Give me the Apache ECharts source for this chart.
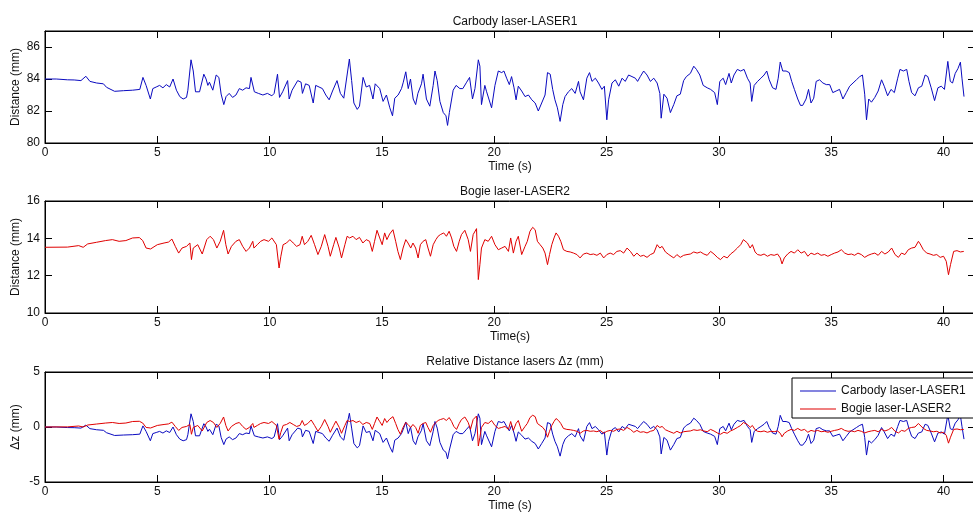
<!DOCTYPE html>
<html>
<head>
<meta charset="utf-8">
<script src="https://cdn.jsdelivr.net/npm/echarts@6/dist/echarts.min.js"></script>
<style>
  html, body { margin: 0; padding: 0; background: #fff; }
  #chart { width: 973px; height: 519px; }
</style>
</head>
<body>
<div id="chart"></div>
<script>
// Carbody laser (LASER1) distance, [time s, distance mm]
const laser1 = [
  [0,84.0],[0.5,84.0],[1.0,83.95],[1.3,83.94],[1.6,83.9],[1.82,84.17],[2.0,83.85],[2.3,83.75],[2.6,83.7],[2.74,83.48],
  [3.1,83.23],[3.5,83.27],[3.9,83.3],[4.22,83.35],[4.36,84.1],[4.5,83.6],[4.69,82.75],[4.8,83.4],[4.95,83.5],[5.1,83.6],
  [5.25,83.45],[5.4,83.65],[5.55,83.5],[5.7,84.0],[5.85,83.3],[6.0,82.9],[6.15,82.75],[6.3,82.85],[6.36,83.3],[6.5,85.2],
  [6.6,84.5],[6.7,83.2],[6.88,83.2],[7.07,84.3],[7.17,84.0],[7.25,83.6],[7.32,83.8],[7.47,83.3],[7.62,84.25],[7.74,84.1],
  [7.84,83.06],[7.96,82.4],[8.06,82.9],[8.2,83.1],[8.35,82.85],[8.5,83.0],[8.65,83.4],[8.8,83.3],[8.95,83.45],[9.1,83.4],
  [9.17,84.1],[9.32,83.2],[9.5,83.1],[9.7,83.0],[9.9,83.1],[10.1,82.95],[10.2,83.1],[10.35,84.3],[10.44,82.85],[10.58,83.2],
  [10.8,83.9],[10.87,82.75],[11.0,83.3],[11.25,83.9],[11.4,83.8],[11.46,83.1],[11.6,83.7],[11.76,83.6],[11.94,82.5],[12.05,83.6],
  [12.2,83.5],[12.35,83.4],[12.5,83.0],[12.65,82.7],[12.8,83.25],[13.0,83.9],[13.15,83.1],[13.3,82.8],[13.55,85.25],[13.65,83.9],
  [13.75,82.5],[13.9,82.1],[14.0,82.3],[14.16,84.1],[14.3,83.5],[14.45,83.6],[14.6,82.75],[14.7,83.7],[14.9,83.4],[15.05,82.6],
  [15.2,83.0],[15.35,82.2],[15.47,81.7],[15.57,82.8],[15.72,83.0],[15.87,83.4],[15.95,83.8],[16.06,84.45],[16.17,83.4],[16.27,84.0],
  [16.39,82.75],[16.5,82.4],[16.6,83.1],[16.76,83.7],[16.83,84.3],[16.98,82.75],[17.13,82.3],[17.28,83.6],[17.36,84.5],[17.46,83.9],
  [17.58,82.6],[17.73,81.9],[17.85,81.7],[17.92,81.1],[18.0,81.9],[18.17,83.3],[18.3,83.6],[18.47,83.4],[18.6,83.4],[18.77,83.8],
  [18.9,84.1],[19.03,82.75],[19.14,83.4],[19.29,85.2],[19.36,84.8],[19.43,82.4],[19.58,83.6],[19.66,83.2],[19.88,82.2],[20.03,83.6],
  [20.18,84.5],[20.33,84.4],[20.43,84.5],[20.55,84.05],[20.67,83.65],[20.77,84.15],[20.88,83.45],[20.97,82.7],[21.07,83.55],[21.22,83.25],
  [21.37,82.9],[21.52,83.0],[21.67,82.7],[21.82,82.5],[21.96,82.0],[22.11,82.5],[22.26,83.0],[22.37,84.4],[22.49,84.3],[22.6,83.35],
  [22.7,82.7],[22.81,82.2],[22.93,81.35],[23.05,82.4],[23.15,82.9],[23.3,83.2],[23.45,83.4],[23.6,83.1],[23.75,83.85],[23.82,83.2],
  [23.97,82.7],[24.12,84.05],[24.24,84.4],[24.35,83.85],[24.5,84.05],[24.64,83.75],[24.79,83.35],[24.9,83.55],[25.01,81.45],[25.09,82.7],
  [25.24,83.75],[25.39,83.95],[25.54,83.55],[25.69,84.05],[25.83,83.85],[25.98,84.25],[26.13,84.15],[26.28,84.05],[26.38,83.85],[26.5,84.15],
  [26.65,84.5],[26.8,84.25],[26.95,83.85],[27.1,84.05],[27.25,83.75],[27.37,83.1],[27.43,81.55],[27.55,83.05],[27.69,82.8],[27.84,81.9],
  [27.99,82.4],[28.13,82.95],[28.28,83.05],[28.43,83.9],[28.55,84.15],[28.73,84.35],[28.88,84.8],[29.0,84.6],[29.15,84.25],[29.3,83.6],
  [29.48,83.45],[29.63,83.35],[29.81,83.15],[29.93,82.4],[30.04,83.85],[30.19,84.05],[30.3,83.65],[30.45,84.35],[30.55,83.75],[30.67,84.25],
  [30.82,84.6],[30.97,84.5],[31.12,84.6],[31.27,84.05],[31.39,83.75],[31.46,82.6],[31.57,83.6],[31.72,83.85],[31.87,84.05],[32.01,84.25],
  [32.13,84.5],[32.24,83.95],[32.39,83.45],[32.54,83.35],[32.64,84.05],[32.73,85.06],[32.84,84.5],[32.99,84.5],[33.13,84.4],[33.24,83.85],
  [33.36,83.35],[33.51,82.75],[33.63,82.35],[33.73,82.35],[33.88,82.75],[33.99,83.35],[34.1,82.5],[34.22,82.8],[34.33,83.85],[34.48,83.95],
  [34.63,83.75],[34.78,83.65],[34.93,83.65],[35.07,83.15],[35.22,83.25],[35.37,83.35],[35.52,82.75],[35.67,83.15],[35.82,83.55],[35.97,83.75],
  [36.12,83.95],[36.27,84.15],[36.39,84.25],[36.49,83.05],[36.57,81.45],[36.67,82.75],[36.79,82.55],[36.94,82.85],[37.09,83.25],[37.24,83.95],
  [37.36,83.55],[37.51,82.95],[37.66,83.35],[37.81,83.15],[37.96,84.05],[38.06,84.6],[38.21,84.5],[38.36,84.6],[38.46,83.85],[38.58,83.15],
  [38.73,82.95],[38.88,83.45],[39.03,83.55],[39.18,84.25],[39.3,84.15],[39.45,83.45],[39.6,82.65],[39.75,83.45],[39.9,83.55],[40.04,83.35],
  [40.19,85.1],[40.3,83.85],[40.4,83.75],[40.52,84.35],[40.64,84.65],[40.75,85.05],[40.82,84.05],[40.91,82.9]
];

// Bogie laser (LASER2) distance, [time s, distance mm]
const laser2 = [
  [0,13.52],[1.0,13.53],[1.5,13.61],[1.7,13.52],[1.9,13.70],[2.3,13.79],[2.7,13.88],[3.0,13.93],[3.3,13.84],[3.6,13.88],
  [3.9,14.02],[4.2,14.04],[4.35,13.88],[4.5,13.48],[4.7,13.43],[5.0,13.66],[5.3,13.75],[5.5,13.80],[5.65,13.96],[5.8,13.57],
  [5.95,13.21],[6.1,13.48],[6.3,13.57],[6.45,13.75],[6.52,12.86],[6.6,13.48],[6.8,13.66],[7.0,13.16],[7.2,13.93],[7.35,14.11],
  [7.5,13.93],[7.65,13.48],[7.8,13.84],[7.95,14.43],[8.05,13.66],[8.15,13.16],[8.3,13.57],[8.5,13.84],[8.65,13.93],[8.8,13.57],
  [8.95,13.30],[9.1,13.48],[9.25,13.84],[9.3,13.48],[9.45,13.66],[9.6,13.84],[9.75,13.93],[9.95,13.84],[10.1,14.02],[10.3,13.66],
  [10.42,12.41],[10.5,13.04],[10.6,13.66],[10.75,13.75],[10.9,13.93],[11.05,13.75],[11.2,13.57],[11.35,13.66],[11.45,14.11],[11.55,13.66],
  [11.7,13.84],[11.85,14.16],[12.0,13.66],[12.15,13.13],[12.3,13.57],[12.45,14.20],[12.6,13.57],[12.7,13.04],[12.85,13.66],[12.95,14.05],
  [13.1,13.48],[13.2,12.95],[13.35,13.66],[13.45,14.11],[13.56,14.02],[13.71,14.11],[13.85,13.93],[14.0,14.05],[14.15,13.75],[14.3,13.93],
  [14.45,13.84],[14.57,13.30],[14.67,13.84],[14.78,14.43],[14.9,14.02],[15.01,13.66],[15.12,14.29],[15.22,13.93],[15.34,14.23],[15.49,14.46],
  [15.61,13.84],[15.71,13.30],[15.82,12.86],[15.94,13.48],[16.06,13.93],[16.16,13.75],[16.28,13.48],[16.38,13.75],[16.5,13.48],[16.61,12.95],
  [16.71,13.66],[16.83,13.84],[16.95,13.93],[17.05,13.48],[17.16,13.04],[17.28,13.66],[17.4,13.93],[17.5,14.11],[17.6,14.20],[17.75,14.29],
  [17.87,14.11],[17.99,14.38],[18.1,14.02],[18.2,13.57],[18.32,13.30],[18.44,13.84],[18.54,14.20],[18.69,14.43],[18.84,13.93],[18.94,13.30],
  [19.06,14.20],[19.21,14.52],[19.29,11.79],[19.36,12.59],[19.43,13.48],[19.58,13.93],[19.73,13.84],[19.88,14.11],[20.03,13.66],[20.18,13.39],
  [20.33,13.48],[20.48,13.57],[20.63,13.30],[20.73,14.02],[20.85,13.21],[20.97,13.84],[21.07,14.11],[21.22,13.13],[21.37,13.57],[21.47,13.84],
  [21.59,14.38],[21.71,14.59],[21.82,14.46],[21.92,13.84],[22.04,13.66],[22.16,13.48],[22.26,13.21],[22.37,12.59],[22.46,13.13],[22.56,13.66],
  [22.66,14.02],[22.75,14.29],[22.86,14.11],[22.96,13.84],[23.08,13.39],[23.23,13.30],[23.38,13.27],[23.53,13.21],[23.68,13.13],[23.82,12.95],
  [23.97,13.16],[24.12,13.21],[24.27,13.13],[24.42,13.16],[24.57,13.09],[24.72,13.21],[24.87,12.95],[25.01,13.13],[25.16,13.21],[25.31,13.13],
  [25.46,13.30],[25.61,13.34],[25.76,13.21],[25.91,13.48],[26.06,13.30],[26.21,13.04],[26.35,13.21],[26.5,13.04],[26.65,13.09],[26.8,12.98],
  [26.95,13.13],[27.1,13.21],[27.25,13.66],[27.37,13.48],[27.47,13.57],[27.62,13.27],[27.77,13.13],[27.99,12.95],[28.13,13.13],[28.28,12.98],
  [28.43,13.09],[28.58,13.13],[28.73,13.16],[28.88,13.27],[29.03,13.21],[29.18,13.27],[29.33,13.16],[29.48,13.09],[29.63,13.30],[29.78,13.16],
  [29.93,12.98],[30.07,12.86],[30.22,13.04],[30.37,12.95],[30.52,13.16],[30.67,13.30],[30.82,13.48],[30.97,13.66],[31.09,13.93],[31.16,14.02],
  [31.27,13.75],[31.39,13.48],[31.49,13.66],[31.61,13.27],[31.72,13.13],[31.87,13.09],[32.01,13.16],[32.16,13.04],[32.31,13.13],[32.46,13.09],
  [32.61,13.16],[32.73,12.95],[32.81,12.63],[32.91,12.95],[33.06,13.16],[33.21,13.30],[33.36,13.21],[33.51,13.39],[33.66,13.21],[33.81,13.30],
  [33.96,13.04],[34.1,13.21],[34.25,13.13],[34.4,13.21],[34.55,13.09],[34.7,13.13],[34.85,13.04],[35.0,13.13],[35.15,13.21],[35.3,13.27],
  [35.45,13.39],[35.6,13.21],[35.75,13.13],[35.9,13.16],[36.04,13.09],[36.19,13.21],[36.34,13.13],[36.49,12.98],[36.64,13.09],[36.79,13.16],
  [36.94,13.21],[37.09,13.09],[37.24,13.30],[37.39,13.16],[37.54,13.27],[37.69,13.48],[37.84,13.13],[37.99,12.98],[38.13,13.21],[38.28,13.13],
  [38.43,13.39],[38.58,13.48],[38.73,13.52],[38.88,13.84],[38.96,13.70],[39.1,13.39],[39.25,13.21],[39.4,13.16],[39.55,13.09],[39.7,13.13],
  [39.85,12.98],[40.0,13.04],[40.12,12.77],[40.22,12.05],[40.31,12.59],[40.45,13.30],[40.6,13.34],[40.75,13.27],[40.9,13.30]
];

// Axis ranges and tick spacing
const timeRange = [0, 41.4];
const timeStep = 5;
const laser1Range = [80, 87];
const laser2Range = [10, 16];
const deltaRange = [-5, 5];

// Names and titles
const name1 = 'Carbody laser-LASER1';
const name2 = 'Bogie laser-LASER2';
const titles = ['Carbody laser-LASER1', 'Bogie laser-LASER2', 'Relative Distance lasers \u0394z (mm)'];

// Relative displacement of each laser from its starting reading
const relative = (s) => s.map(p => [p[0], +(p[1] - s[0][1]).toFixed(3)]);
const rel1 = relative(laser1);
const rel2 = relative(laser2);

const FONT = "'Liberation Sans', Arial, sans-serif";
const TXT = '#111';
const BLUE = '#0a0ac0';
const RED = '#e00000';

const grids = [
  { left: 45, top: 31, width: 930, height: 112 },
  { left: 45, top: 201, width: 930, height: 112 },
  { left: 45, top: 372, width: 930, height: 110 }
].map(g => Object.assign(g, {
  show: true, borderColor: '#000', borderWidth: 1, backgroundColor: '#fff',
  containLabel: false, outerBoundsMode: 'none'
}));

function xPair(gi, xName) {
  const base = {
    gridIndex: gi, type: 'value', min: timeRange[0], max: timeRange[1], interval: timeStep,
    splitLine: { show: false },
    axisLine: { show: true, onZero: false, lineStyle: { color: '#000', width: 1 } },
    axisTick: { show: true, inside: true, length: 7, lineStyle: { color: '#000' } }
  };
  return [
    Object.assign({}, base, {
      position: 'bottom',
      name: xName, nameLocation: 'middle', nameGap: 18, nameMoveOverlap: false,
      nameTextStyle: { fontFamily: FONT, fontSize: 12, color: TXT },
      axisLabel: { show: true, margin: 4, fontFamily: FONT, fontSize: 12, color: TXT, showMaxLabel: false }
    }),
    Object.assign({}, base, { position: 'top', axisLabel: { show: false } })
  ];
}

function yPair(gi, range, step, yName) {
  const base = {
    gridIndex: gi, type: 'value', min: range[0], max: range[1], interval: step,
    splitLine: { show: false },
    axisLine: { show: true, onZero: false, lineStyle: { color: '#000', width: 1 } },
    axisTick: { show: true, inside: true, length: 7, lineStyle: { color: '#000' } }
  };
  return [
    Object.assign({}, base, {
      position: 'left',
      name: yName, nameLocation: 'middle', nameGap: 23, nameRotate: 90, nameMoveOverlap: false,
      nameTextStyle: { fontFamily: FONT, fontSize: 12, color: TXT },
      axisLabel: { show: true, margin: 5, fontFamily: FONT, fontSize: 12, color: TXT,
        formatter: v => (Math.abs((v - range[0]) % step) < 1e-9 ? String(v) : '') }
    }),
    Object.assign({}, base, { position: 'right', axisLabel: { show: false } })
  ];
}

const xAxes = [].concat(xPair(0, 'Time (s)'), xPair(1, 'Time(s)'), xPair(2, 'Time (s)'));
const yAxes = [].concat(
  yPair(0, laser1Range, 2, 'Distance (mm)'),
  yPair(1, laser2Range, 2, 'Distance (mm)'),
  yPair(2, deltaRange, 5, '\u0394z (mm)')
);

function line(name, data, xi, yi, color) {
  return {
    name, type: 'line', data, xAxisIndex: xi, yAxisIndex: yi,
    symbol: 'none', showSymbol: false, smooth: false, animation: false,
    lineStyle: { color, width: 1 }, itemStyle: { color },
    emphasis: { disabled: true }
  };
}

const titleTops = [11, 181, 351];
// thin horizontal stroke used as the legend key
const legendKey = 'path://M0,0H36V1.2H0Z';

const option = {
  animation: false,
  backgroundColor: '#fff',
  title: titles.map((t, i) => ({
    text: t, left: 510, top: titleTops[i], textAlign: 'center',
    textStyle: { fontFamily: FONT, fontSize: 12, fontWeight: 'normal', color: TXT }
  })),
  grid: grids,
  xAxis: xAxes,
  yAxis: yAxes,
  legend: {
    data: [{ name: name1, icon: legendKey }, { name: name2, icon: legendKey }],
    orient: 'vertical', left: 792, top: 378,
    itemWidth: 36, itemHeight: 10, itemGap: 6,
    padding: [7, 16, 3, 8],
    borderColor: '#000', borderWidth: 1, borderRadius: 0, backgroundColor: '#fff',
    textStyle: { fontFamily: FONT, fontSize: 12, color: TXT },
    selectedMode: false
  },
  series: [
    line('LASER1', laser1, 0, 0, BLUE),
    line('LASER2', laser2, 2, 2, RED),
    line(name1, rel1, 4, 4, BLUE),
    line(name2, rel2, 4, 4, RED)
  ]
};

const chart = echarts.init(document.getElementById('chart'), null, { renderer: 'canvas' });
chart.setOption(option);
</script>
</body>
</html>
